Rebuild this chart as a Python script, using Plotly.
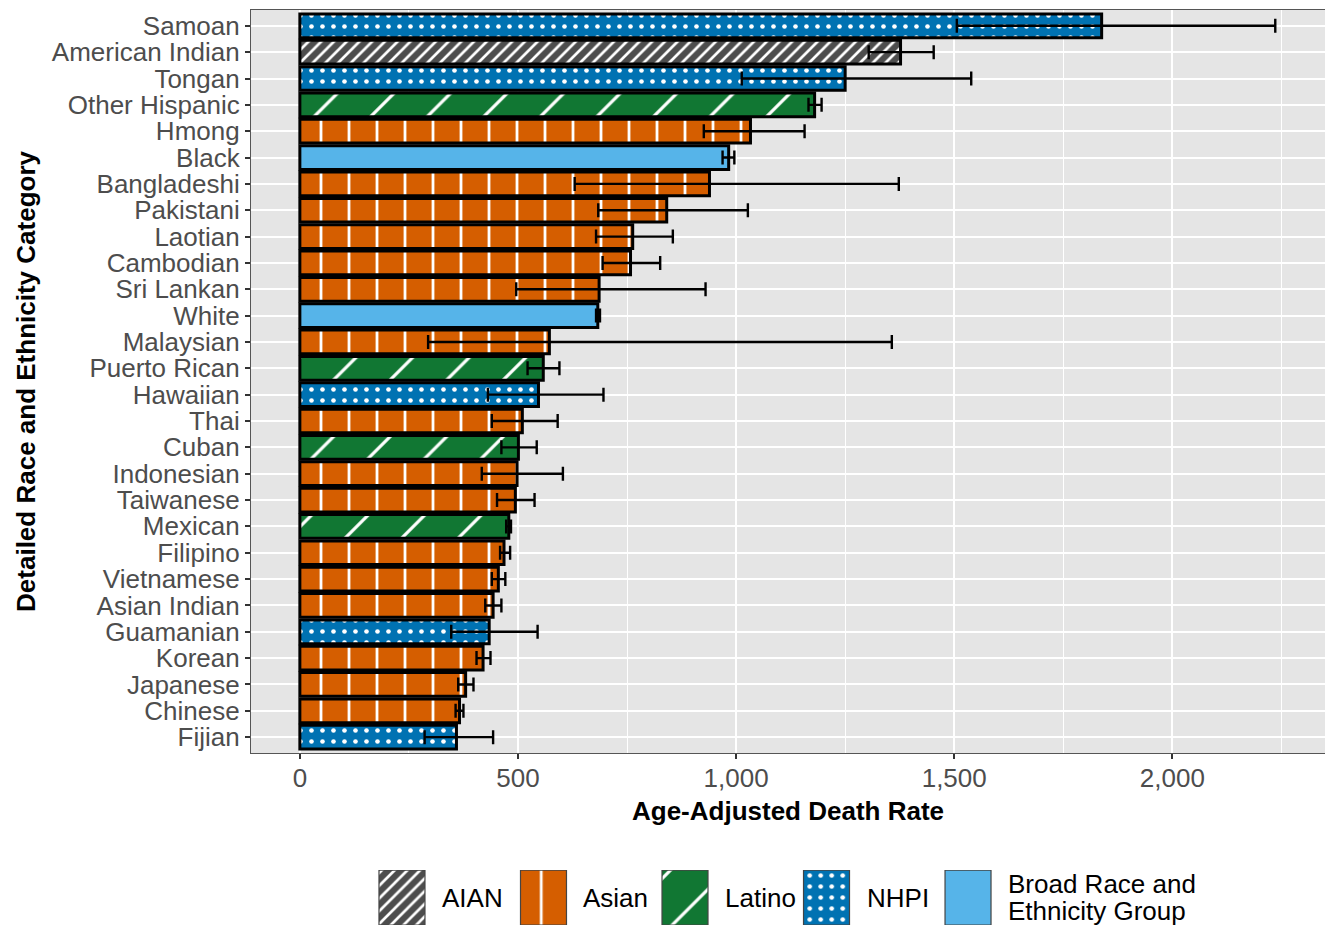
import plotly.graph_objects as go

categories = ["Samoan", "American Indian", "Tongan", "Other Hispanic", "Hmong", "Black",
              "Bangladeshi", "Pakistani", "Laotian", "Cambodian", "Sri Lankan", "White",
              "Malaysian", "Puerto Rican", "Hawaiian", "Thai", "Cuban", "Indonesian",
              "Taiwanese", "Mexican", "Filipino", "Vietnamese", "Asian Indian", "Guamanian",
              "Korean", "Japanese", "Chinese", "Fijian"]
groups = ["NHPI", "AIAN", "NHPI", "Latino", "Asian", "Broad", "Asian", "Asian", "Asian",
          "Asian", "Asian", "Broad", "Asian", "Latino", "NHPI", "Asian", "Latino", "Asian",
          "Asian", "Latino", "Asian", "Asian", "Asian", "NHPI", "Asian", "Asian", "Asian", "NHPI"]
rates = [1838, 1377, 1250, 1180, 1033, 983, 939, 841, 763, 758, 686, 683, 572, 558, 547,
         510, 501, 498, 494, 479, 468, 455, 443, 434, 420, 380, 366, 359]
lower = [1506, 1304, 1013, 1166, 926, 969, 630, 684, 679, 694, 496, 679, 294, 522, 431,
         440, 462, 417, 452, 473, 459, 440, 425, 347, 405, 363, 357, 286]
upper = [2236, 1453, 1539, 1196, 1157, 996, 1373, 1027, 855, 826, 930, 688, 1357, 595, 696,
         591, 543, 603, 538, 484, 482, 471, 462, 545, 437, 398, 375, 443]

group_order = ["AIAN", "Asian", "Latino", "NHPI", "Broad"]
group_labels = ["AIAN", "Asian", "Latino", "NHPI", "Broad Race and<br>Ethnicity Group"]

styles = {
    "AIAN": dict(color="#4D4D4D", shape="/", size=9, solidity=0.3),
    "Asian": dict(color="#D55E00", shape="|", size=28, solidity=0.1),
    "Latino": dict(color="#117733", shape="/", size=40, solidity=0.08),
    "NHPI": dict(color="#0072B2", shape=".", size=11, solidity=0.14),
    "Broad": dict(color="#56B4E9", shape="", size=10, solidity=0.3),
}


def pattern_for(g):
    st = styles[g]
    return dict(shape=st["shape"], fgcolor="white", bgcolor=st["color"], fgopacity=1,
                size=st["size"], solidity=st["solidity"], fillmode="overlay")


FONT = "Liberation Sans, Arial, sans-serif"
fig = go.Figure()

# main bars, one trace per group
for g in group_order:
    idx = [i for i, gg in enumerate(groups) if gg == g]
    fig.add_trace(go.Bar(
        y=[categories[i] for i in idx],
        x=[rates[i] for i in idx],
        orientation="h",
        width=0.9,
        showlegend=False,
        marker=dict(color=styles[g]["color"], line=dict(color="black", width=3),
                    pattern=pattern_for(g)),
        error_x=dict(type="data", symmetric=False,
                     array=[upper[i] - rates[i] for i in idx],
                     arrayminus=[rates[i] - lower[i] for i in idx],
                     color="black", thickness=2.4, width=7),
        xaxis="x", yaxis="y",
    ))

# legend drawn as its own small subplot so the keys carry the same fills as the bars
for g, lab in zip(group_order, group_labels):
    fig.add_trace(go.Bar(
        x=[g], y=[1], width=0.325, showlegend=False, hoverinfo="skip",
        marker=dict(color=styles[g]["color"], line=dict(color="#444444", width=1.2),
                    pattern=pattern_for(g)),
        xaxis="x2", yaxis="y2",
    ))
    lines = lab.split("<br>")
    n = len(lines)
    for k, line in enumerate(lines):
        fig.add_annotation(x=g, y=0.5, xref="x2", yref="y2", text=line, showarrow=False,
                           xanchor="left", yanchor="middle", xshift=38,
                           yshift=(n - 1) * 13.5 - k * 27, align="left",
                           font=dict(size=26, color="black", family=FONT))

fig.update_layout(
    width=1325, height=926,
    margin=dict(l=251, r=0, t=10, b=0),
    barmode="overlay",
    paper_bgcolor="white",
    plot_bgcolor="white",
    font=dict(family=FONT, size=26, color="black"),
    showlegend=False,
    shapes=[dict(type="rect", xref="x domain", yref="y domain", x0=0, x1=1, y0=0, y1=1,
                 fillcolor="#E5E5E5", line=dict(width=0), layer="below")],
    xaxis=dict(
        domain=[0, 1], anchor="y",
        range=[-112, 2350], dtick=500, tickformat=",", showgrid=True, gridcolor="white",
        gridwidth=2, zeroline=False,
        minor=dict(dtick=250, showgrid=True, gridcolor="white", gridwidth=1.2),
        ticks="outside", ticklen=5, tickcolor="#333333", tickwidth=2,
        tickfont=dict(size=26, color="#4D4D4D"), ticklabelstandoff=-3,
        showline=True, mirror=True, linecolor="#555555", linewidth=1.2,
        title=dict(text="<b>Age-Adjusted Death Rate</b>", font=dict(size=26, color="black"),
                   standoff=9),
        automargin=False,
    ),
    yaxis=dict(
        domain=[0.1889, 1], anchor="x",
        type="category", categoryorder="array", categoryarray=categories[::-1],
        tickmode="array", tickvals=categories, ticktext=categories,
        range=[-0.6, 27.6], showgrid=True, gridcolor="white", gridwidth=2,
        ticks="outside", ticklen=5, tickcolor="#333333", tickwidth=2,
        tickfont=dict(size=26, color="#4D4D4D"),
        showline=True, mirror=True, linecolor="#555555", linewidth=1.2,
        title=dict(text="<b>Detailed Race and Ethnicity Category</b>",
                   font=dict(size=26, color="black"), standoff=8),
        automargin=False,
    ),
    xaxis2=dict(domain=[0.0747, 0.7335], anchor="y2", type="category",
                categoryorder="array", categoryarray=group_order, range=[-0.5, 4.5],
                visible=False, fixedrange=True),
    yaxis2=dict(domain=[0.0011, 0.0611], anchor="x2", range=[0, 1], visible=False,
                fixedrange=True),
)

# remove the page's default body margin so the figure fills the window exactly
fig.write_html("out.html", config={"displayModeBar": False},
               post_script="document.body.style.margin='0';document.body.style.overflow='hidden';")
